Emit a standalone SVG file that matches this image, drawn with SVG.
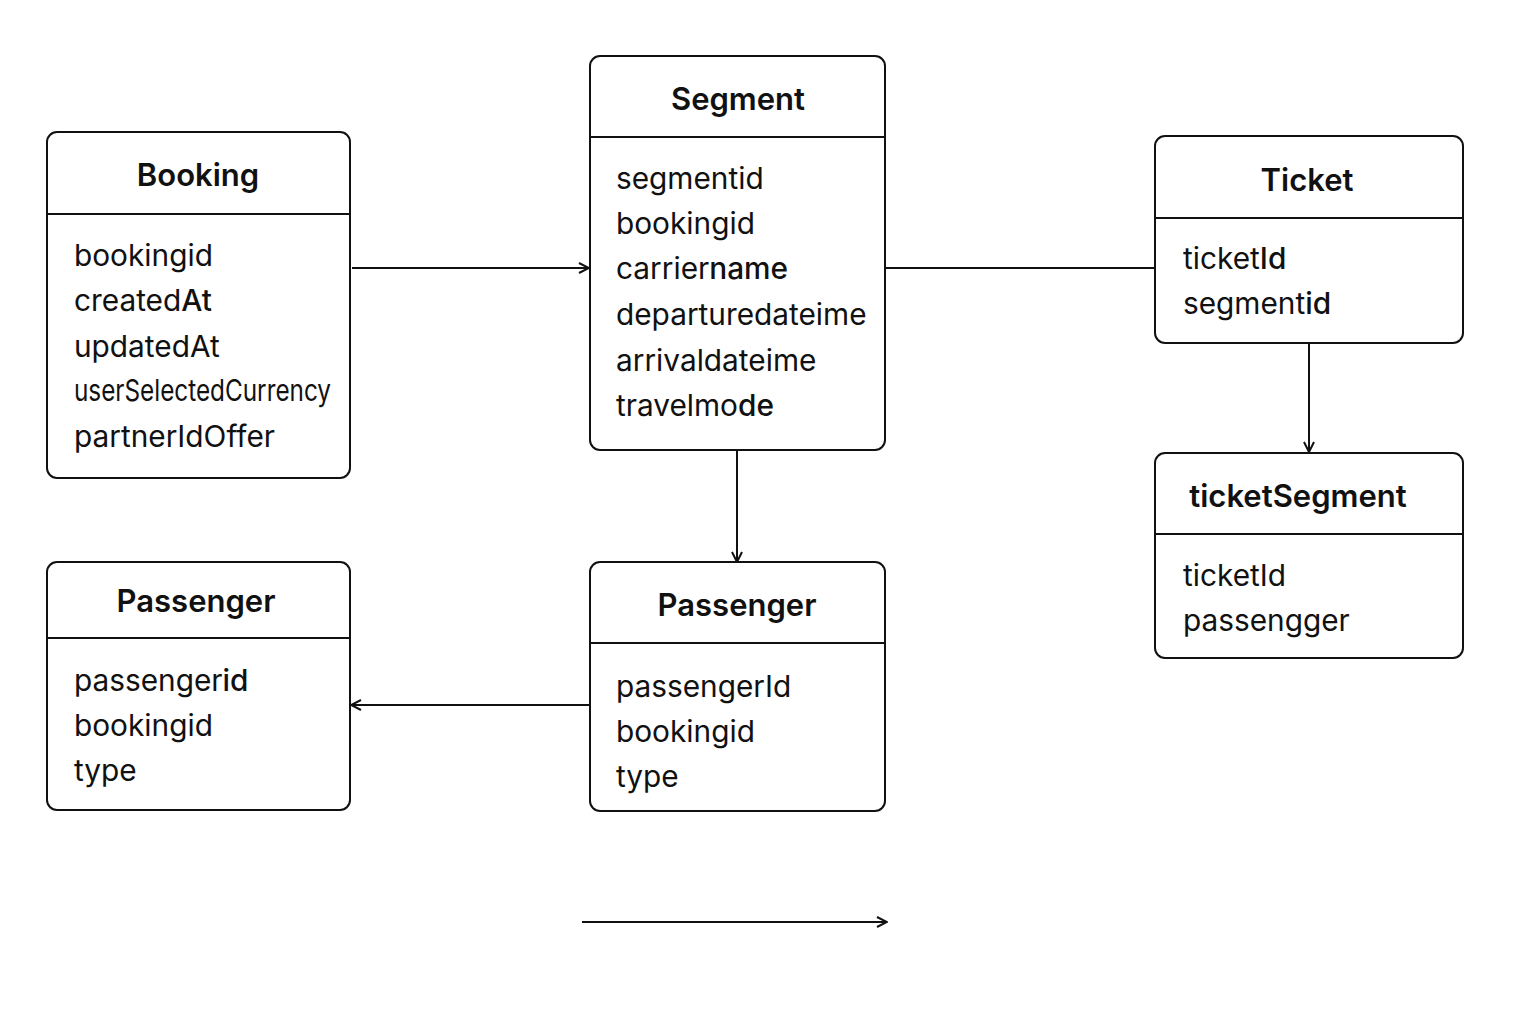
<svg xmlns="http://www.w3.org/2000/svg" width="1536" height="1024" viewBox="0 0 1536 1024">
<defs>
<style>
.box{fill:#fff;stroke:#111;stroke-width:2}
.div{stroke:#111;stroke-width:2}
.title{font-family:Inter,"Liberation Sans",sans-serif;font-size:31px;font-weight:600;fill:#111;text-anchor:middle}
.row{font-family:Inter,"Liberation Sans",sans-serif;font-size:29.8px;fill:#111}
.b{font-weight:500}
.conn{stroke:#111;stroke-width:2;fill:none}
</style>
<marker id="arr" viewBox="0 0 12 12" refX="11" refY="6" markerWidth="12" markerHeight="12" markerUnits="userSpaceOnUse" orient="auto">
<path d="M1,1 L11,6 L1,11" fill="none" stroke="#111" stroke-width="2"/>
</marker>
</defs>
<rect width="1536" height="1024" fill="#fff"/>
<g id="connectors">
<line class="conn" x1="352" y1="268" x2="589" y2="268" marker-end="url(#arr)"/>
<line class="conn" x1="886" y1="268" x2="1155" y2="268"/>
<line class="conn" x1="1309" y1="343" x2="1309" y2="452" marker-end="url(#arr)"/>
<line class="conn" x1="737" y1="450" x2="737" y2="562" marker-end="url(#arr)"/>
<line class="conn" x1="589" y1="705" x2="351" y2="705" marker-end="url(#arr)"/>
<line class="conn" x1="582" y1="922" x2="887" y2="922" marker-end="url(#arr)"/>
</g>
<g id="booking">
<rect class="box" x="47" y="132" width="303" height="346" rx="10"/>
<line class="div" x1="47" y1="214" x2="350" y2="214"/>
<text class="title" x="198" y="186">Booking</text>
<text class="row" x="74" y="266">bookingid</text>
<text class="row" x="74" y="311">created<tspan class="b">At</tspan></text>
<text class="row" x="74" y="357">updatedAt</text>
<text class="row" x="74" y="401" font-size="25" textLength="257" lengthAdjust="spacingAndGlyphs">userSelectedCurrency</text>
<text class="row" x="74" y="447">partnerIdOffer</text>
</g>
<g id="segment">
<rect class="box" x="590" y="56" width="295" height="394" rx="10"/>
<line class="div" x1="590" y1="137" x2="885" y2="137"/>
<text class="title" x="738" y="110">Segment</text>
<text class="row" x="616" y="189">segmentid</text>
<text class="row" x="616" y="234">bookingid</text>
<text class="row" x="616" y="279">carrier<tspan class="b">name</tspan></text>
<text class="row" x="616" y="325">departuredateime</text>
<text class="row" x="616" y="371">arrivaldateime</text>
<text class="row" x="616" y="416">travelmo<tspan class="b">de</tspan></text>
</g>
<g id="ticket">
<rect class="box" x="1155" y="136" width="308" height="207" rx="10"/>
<line class="div" x1="1155" y1="218" x2="1463" y2="218"/>
<text class="title" x="1307" y="191">Ticket</text>
<text class="row" x="1183" y="269">ticket<tspan class="b">Id</tspan></text>
<text class="row" x="1183" y="314">segment<tspan class="b">id</tspan></text>
</g>
<g id="ticketSegment">
<rect class="box" x="1155" y="453" width="308" height="205" rx="10"/>
<line class="div" x1="1155" y1="534" x2="1463" y2="534"/>
<text class="title" x="1298" y="507">ticketSegment</text>
<text class="row" x="1183" y="586">ticketId</text>
<text class="row" x="1183" y="631">passengger</text>
</g>
<g id="passengerLeft">
<rect class="box" x="47" y="562" width="303" height="248" rx="10"/>
<line class="div" x1="47" y1="638" x2="350" y2="638"/>
<text class="title" x="196" y="612">Passenger</text>
<text class="row" x="74" y="691">passenger<tspan class="b">id</tspan></text>
<text class="row" x="74" y="736">bookingid</text>
<text class="row" x="74" y="781">type</text>
</g>
<g id="passengerMid">
<rect class="box" x="590" y="562" width="295" height="249" rx="10"/>
<line class="div" x1="590" y1="643" x2="885" y2="643"/>
<text class="title" x="737" y="616">Passenger</text>
<text class="row" x="616" y="697">passengerId</text>
<text class="row" x="616" y="742">bookingid</text>
<text class="row" x="616" y="787">type</text>
</g>
</svg>
